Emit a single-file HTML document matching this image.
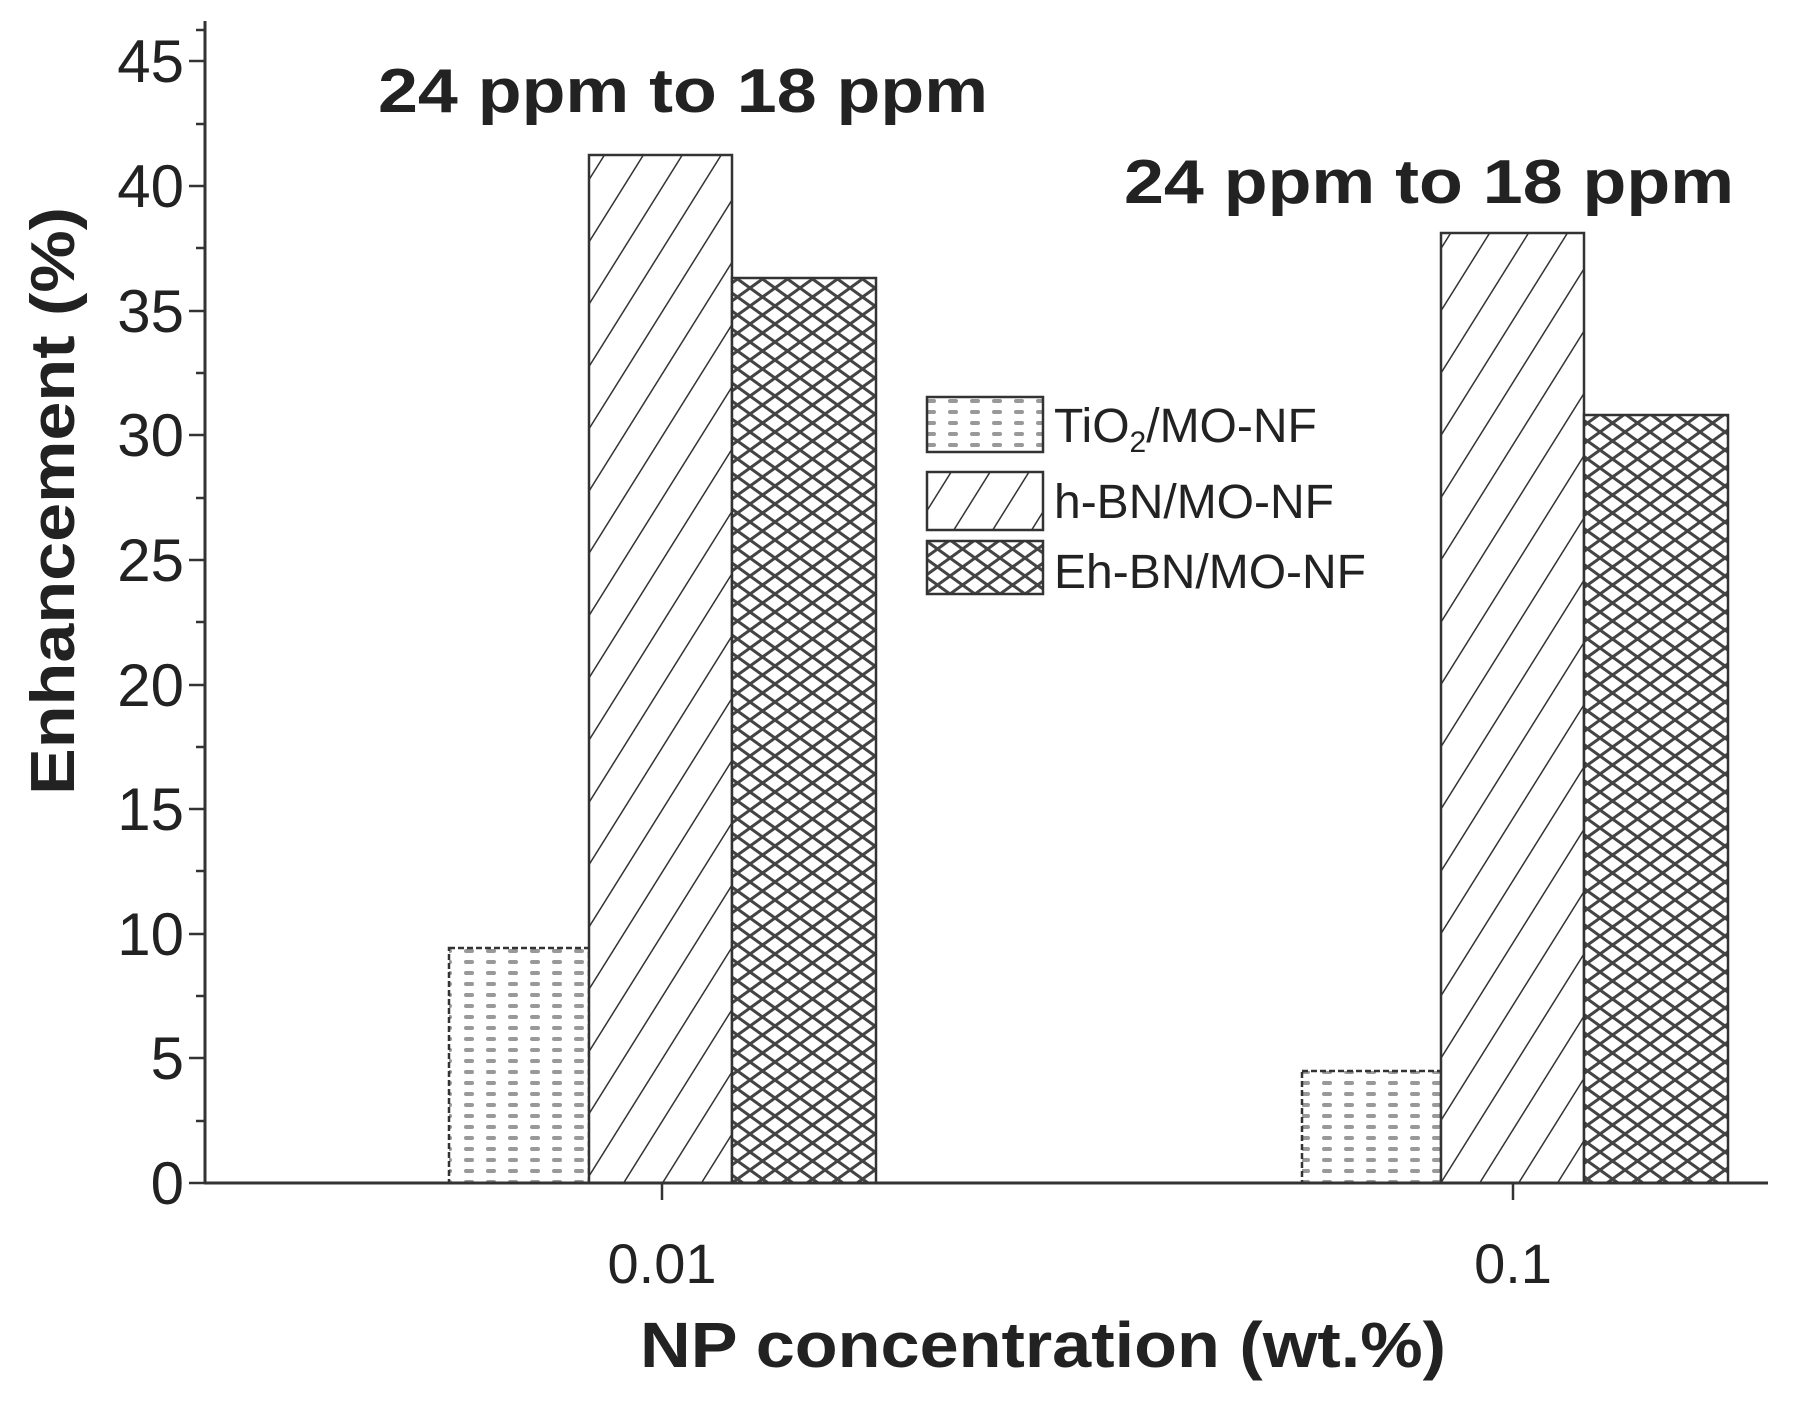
<!DOCTYPE html>
<html><head><style>
html,body{margin:0;padding:0;background:#fff}
svg{display:block}
text{font-family:"Liberation Sans",Arial,sans-serif;fill:#222}
</style></head><body>
<svg width="1803" height="1401" viewBox="0 0 1803 1401" xmlns="http://www.w3.org/2000/svg">
<defs>
<pattern id="dots" width="22" height="11" patternUnits="userSpaceOnUse">
<rect width="22" height="11" fill="#fff"/>
<rect x="2" y="3" width="10" height="4" rx="2" fill="#999"/>
</pattern>
<pattern id="hatch" width="33" height="33" patternUnits="userSpaceOnUse" patternTransform="rotate(32)">
<rect width="33" height="33" fill="#fff"/>
<line x1="0" y1="0" x2="0" y2="33" stroke="#333" stroke-width="3"/>
</pattern>
<pattern id="cross" width="25" height="18" patternUnits="userSpaceOnUse">
<rect width="25" height="18" fill="#fff"/>
<line x1="0" y1="0" x2="25" y2="18" stroke="#444" stroke-width="3"/>
<line x1="25" y1="0" x2="0" y2="18" stroke="#444" stroke-width="3"/>
</pattern>
</defs>
<g stroke="#333" stroke-width="2.5">
<rect x="449" y="948" width="140" height="235" fill="url(#dots)" stroke-dasharray="6,3"/>
<rect x="589" y="155" width="143" height="1028" fill="url(#hatch)"/>
<rect x="732" y="278" width="144" height="905" fill="url(#cross)"/>
<rect x="1302" y="1071" width="139" height="112" fill="url(#dots)" stroke-dasharray="6,3"/>
<rect x="1441" y="233" width="143" height="950" fill="url(#hatch)"/>
<rect x="1584" y="415" width="144" height="768" fill="url(#cross)"/>
</g>
<line x1="205" y1="21" x2="205" y2="1184" stroke="#333" stroke-width="3"/>
<line x1="204" y1="1183" x2="1768" y2="1183" stroke="#333" stroke-width="3"/>
<g stroke="#333" stroke-width="2.5">
<line x1="189" y1="1183" x2="205" y2="1183"/><line x1="196" y1="1121" x2="205" y2="1121"/>
<line x1="189" y1="1058" x2="205" y2="1058"/><line x1="196" y1="996" x2="205" y2="996"/>
<line x1="189" y1="934" x2="205" y2="934"/><line x1="196" y1="871" x2="205" y2="871"/>
<line x1="189" y1="809" x2="205" y2="809"/><line x1="196" y1="747" x2="205" y2="747"/>
<line x1="189" y1="685" x2="205" y2="685"/><line x1="196" y1="622" x2="205" y2="622"/>
<line x1="189" y1="560" x2="205" y2="560"/><line x1="196" y1="498" x2="205" y2="498"/>
<line x1="189" y1="435" x2="205" y2="435"/><line x1="196" y1="373" x2="205" y2="373"/>
<line x1="189" y1="311" x2="205" y2="311"/><line x1="196" y1="248" x2="205" y2="248"/>
<line x1="189" y1="186" x2="205" y2="186"/><line x1="196" y1="124" x2="205" y2="124"/>
<line x1="189" y1="61" x2="205" y2="61"/><line x1="196" y1="30" x2="205" y2="30"/>
<line x1="662" y1="1183" x2="662" y2="1200"/><line x1="1513" y1="1183" x2="1513" y2="1200"/>
</g>
<g font-size="60" text-anchor="end">
<text x="184" y="1204">0</text><text x="184" y="1079">5</text>
<text x="184" y="955">10</text><text x="184" y="830">15</text>
<text x="184" y="706">20</text><text x="184" y="581">25</text>
<text x="184" y="456">30</text><text x="184" y="332">35</text>
<text x="184" y="207">40</text><text x="184" y="82">45</text>
</g>
<g font-size="56" text-anchor="middle">
<text x="662" y="1283">0.01</text><text x="1513" y="1283">0.1</text>
</g>
<text x="640" y="1367" font-size="64" font-weight="bold" textLength="806" lengthAdjust="spacingAndGlyphs">NP concentration (wt.%)</text>
<text transform="translate(74,795) rotate(-90)" font-size="62" font-weight="bold" textLength="588" lengthAdjust="spacingAndGlyphs">Enhancement (%)</text>
<text x="378" y="112" font-size="62" font-weight="bold" textLength="610" lengthAdjust="spacingAndGlyphs">24 ppm to 18 ppm</text>
<text x="1124" y="203" font-size="62" font-weight="bold" textLength="610" lengthAdjust="spacingAndGlyphs">24 ppm to 18 ppm</text>
<g stroke="#333" stroke-width="2.5">
<rect x="927" y="397" width="116" height="55" fill="url(#dots)"/>
<rect x="927" y="472" width="116" height="58" fill="url(#hatch)"/>
<rect x="927" y="541" width="116" height="53" fill="url(#cross)"/>
</g>
<g font-size="48">
<text x="1054" y="442">TiO<tspan font-size="30" dy="10">2</tspan><tspan dy="-10">/MO-NF</tspan></text>
<text x="1054" y="518">h-BN/MO-NF</text>
<text x="1054" y="588">Eh-BN/MO-NF</text>
</g>
</svg>
</body></html>
